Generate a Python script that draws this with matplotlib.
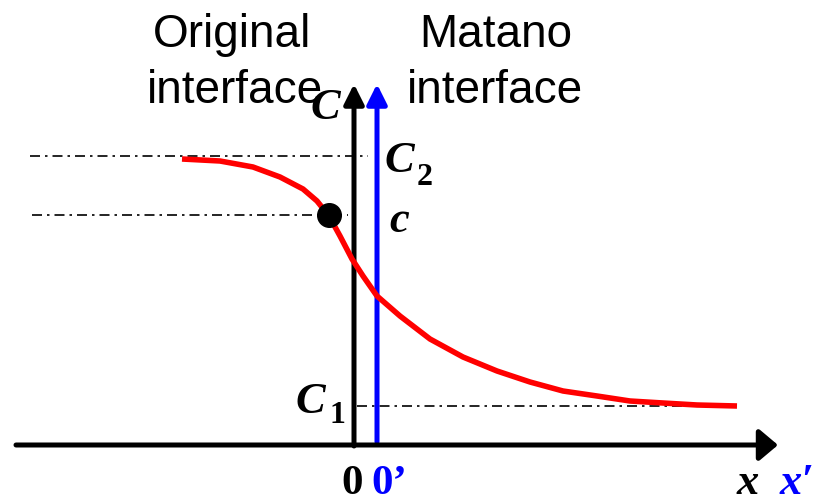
import matplotlib
matplotlib.use("Agg")
import matplotlib.pyplot as plt
from matplotlib.patches import ArrowStyle

# concentration profile c(x), origin at the original interface
profile_x = [-172, -134, -101, -74, -51, -37, -25, -14, -2, 9, 23, 46, 76,
             109, 143, 176, 209, 243, 276, 309, 343, 383]
profile_c = [286, 284, 278, 268, 256, 244, 229, 209, 186, 169, 149, 129, 106,
             88, 74, 63, 54, 49, 44, 42, 40, 39]

# reference levels: C2 (left plateau), c (marked point), C1 (right plateau)
level_c2 = 289
level_c = 230
level_c1 = 39
point_x = -25
matano_x = 23

SERIF = "Liberation Serif"
SANS = "Liberation Sans"


def arrow(ax, start, end, color, head_length, head_width):
    style = ArrowStyle("-|>", head_length=head_length, head_width=head_width)
    ax.annotate(
        "",
        xy=end,
        xytext=start,
        arrowprops=dict(
            arrowstyle=style,
            color=color,
            lw=3.6,
            shrinkA=0,
            shrinkB=0,
            mutation_scale=30,
        ),
    )


def main():
    fig = plt.figure(figsize=(8.25, 5.02), dpi=100)
    ax = fig.add_axes([0, 0, 1, 1])
    ax.set_xlim(-354, 471)
    ax.set_ylim(-56, 446)
    ax.axis("off")

    dash = (0, (6, 3, 1.5, 3))
    ax.plot([-324, 14], [level_c2, level_c2], color="k", lw=1.2, linestyle=dash)
    ax.plot([-322, -6], [level_c, level_c], color="k", lw=1.2, linestyle=dash)
    ax.plot([3, 383], [level_c1, level_c1], color="k", lw=1.2, linestyle=dash)

    # axes: x and C (original), x' and C (Matano)
    arrow(ax, (0, -1), (0, 361), "k", 0.4, 0.2)
    arrow(ax, (matano_x, 3), (matano_x, 361), "#0000ff", 0.4, 0.2)
    arrow(ax, (-338, 0), (424, 0), "k", 0.38, 0.32)

    ax.plot(profile_x, profile_c, color="#ff0000", lw=4,
            solid_capstyle="butt", solid_joinstyle="round", zorder=3)
    ax.plot([point_x], [level_c], "o", color="k", ms=17, zorder=4)

    lab = dict(family=SANS, fontsize=33, ha="center", va="baseline")
    ax.text(-122, 399, "Original", **lab)
    ax.text(-119, 343, "interface", **lab)
    ax.text(142, 399, "Matano", **lab)
    ax.text(141, 343, "interface", **lab)

    sym = dict(family=SERIF, fontsize=32, fontweight="bold", fontstyle="italic",
               ha="left", va="baseline")
    sub = dict(family=SERIF, fontsize=23, fontweight="bold", ha="left", va="baseline")
    ax.text(-44, 327, "C", **sym)
    ax.text(30, 274, "C", **sym)
    ax.text(63, 261, "2", **sub)
    ax.text(35, 214, "c", **sym)
    ax.text(-59, 33, "C", **sym)
    ax.text(-24, 23, "1", **sub)

    num = dict(family=SERIF, fontsize=31, fontweight="bold", ha="left", va="baseline")
    ax.text(-13, -48, "0", color="k", **num)
    ax.text(17, -48, "0\u2019", color="#0000ff", **num)
    ax.text(383, -48, "x", color="k", **sym)
    ax.text(426, -48, "x\u2032", color="#0000ff", **sym)

    fig.savefig("out.png", dpi=100)
    plt.close(fig)


if __name__ == "__main__":
    main()
